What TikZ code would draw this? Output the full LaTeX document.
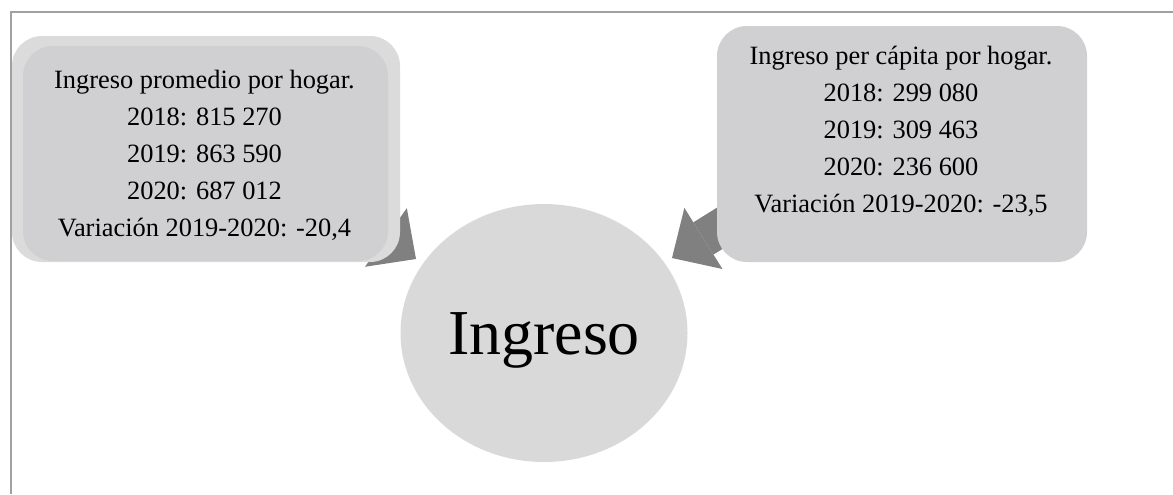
\documentclass[tikz,border=0pt]{standalone}
\usepackage{fontspec}
\setmainfont{Liberation Serif}
\usetikzlibrary{arrows.meta,shapes.geometric}
\definecolor{boxgray}{HTML}{D0CFD1}
\definecolor{rimgray}{HTML}{DBDBDB}
\definecolor{circgray}{HTML}{D9D9D9}
\definecolor{arrgray}{HTML}{808080}
\definecolor{framegray}{HTML}{A0A0A0}
\begin{document}
\begin{tikzpicture}[x=0.5pt,y=-0.5pt,
  boxtext/.style={align=center,font=\fontsize{13.2}{18.5}\selectfont,inner sep=0pt,anchor=base},
  bigarrow/.style={draw=arrgray,line width=19pt,line cap=butt,-{Triangle[length=18.5pt,width=36pt,line width=0pt]}},
  panel/.style={rectangle,rounded corners=15pt,inner sep=0pt}]
\useasboundingbox (0,0) rectangle (1173,494);
\draw[framegray,line width=1pt] (11,494) -- (11,12) -- (1173,12);
% arrows
\coordinate (ls) at (223,121);
\coordinate (lt) at (416,259);
\draw[bigarrow] (ls) -- (lt);
\coordinate (rs) at (884,126);
\coordinate (rt) at (672,258);
\draw[bigarrow] (rs) -- (rt);
% left panel
\node[panel,fill=rimgray,minimum width=194pt,minimum height=113pt] (lrim) at (206,149) {};
\node[panel,fill=boxgray,minimum width=182.5pt,minimum height=107.5pt] (lbox) at (205.5,153.5) {};
\node[boxtext] (ltext) at (204.5,236) {Ingreso promedio por hogar.\\2018: 815 270\\2019: 863 590\\2020: 687 012\\Variación 2019-2020: -20,4};
% right panel
\node[panel,fill=boxgray,minimum width=185pt,minimum height=118pt] (rbox) at (902,144) {};
\node[boxtext] (rtext) at (901,212) {Ingreso per cápita por hogar.\\2018: 299 080\\2019: 309 463\\2020: 236 600\\Variación 2019-2020: -23,5};
% circle
\node[ellipse,fill=circgray,inner sep=0pt,minimum width=143.5pt,minimum height=129pt] (circ) at (544,333) {};
\node[font=\fontsize{32}{38}\selectfont,inner sep=0pt,anchor=base] (ctext) at (544,354) {Ingreso};
\end{tikzpicture}
\end{document}
